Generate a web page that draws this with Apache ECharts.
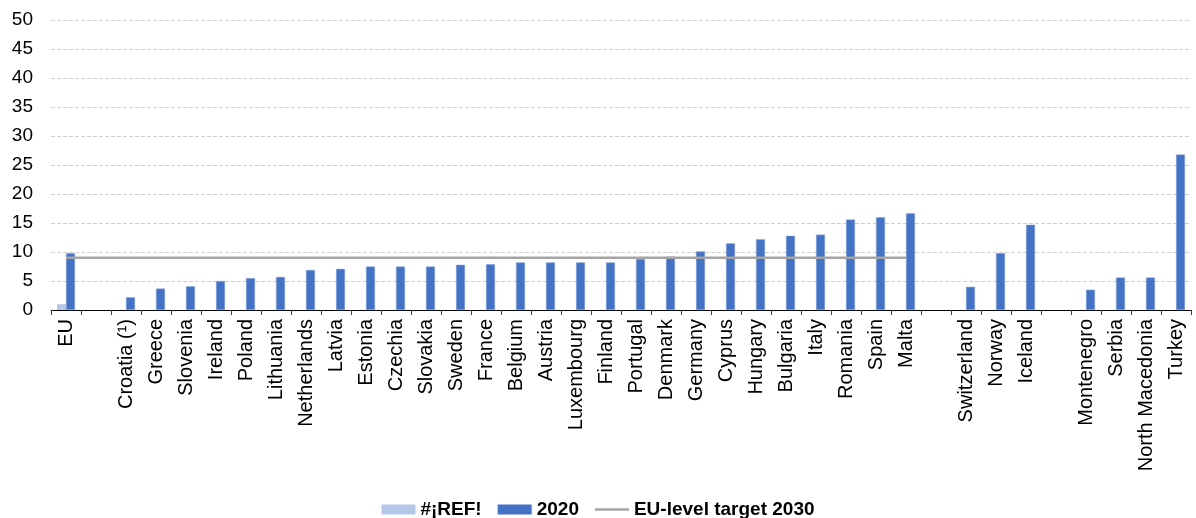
<!DOCTYPE html>
<html lang="en">
<head>
    <meta charset="UTF-8">
    <script src="https://cdn.jsdelivr.net/npm/echarts@6/dist/echarts.min.js"></script>
    <title>Share by country</title>
    <style>
      html, body { margin: 0; padding: 0; background: #fff; }
      #main { width: 1196px; height: 518px; }
    </style>
</head>
<body>
  <div id="main"></div>
  <script>
    // categories (empty strings are the spacer slots between groups)
    var countries = ['EU', '', 'Croatia (\u00b9)', 'Greece', 'Slovenia', 'Ireland', 'Poland', 'Lithuania',
      'Netherlands', 'Latvia', 'Estonia', 'Czechia', 'Slovakia', 'Sweden', 'France', 'Belgium', 'Austria',
      'Luxembourg', 'Finland', 'Portugal', 'Denmark', 'Germany', 'Cyprus', 'Hungary', 'Bulgaria', 'Italy',
      'Romania', 'Spain', 'Malta', '', 'Switzerland', 'Norway', 'Iceland', '', 'Montenegro', 'Serbia',
      'North Macedonia', 'Turkey'];

    var refValues = [1.0, null, null, null, null, null, null, null, null, null, null, null, null, null,
      null, null, null, null, null, null, null, null, null, null, null, null, null, null, null, null,
      null, null, null, null, null, null, null, null];

    var values2020 = [9.8, null, 2.2, 3.7, 4.1, 5.0, 5.5, 5.7, 6.9, 7.1, 7.5, 7.5, 7.5, 7.8, 7.9, 8.2, 8.2,
      8.2, 8.2, 8.8, 9.2, 10.1, 11.5, 12.2, 12.8, 13.0, 15.6, 16.0, 16.7, null, 4.0, 9.8, 14.7, null,
      3.5, 5.6, 5.6, 26.8];

    // EU-level target drawn across EU members only
    var target2030 = [9, 9, 9, 9, 9, 9, 9, 9, 9, 9, 9, 9, 9, 9, 9, 9, 9, 9, 9, 9, 9, 9, 9, 9, 9, 9, 9, 9, 9,
      null, null, null, null, null, null, null, null, null];

    var yTicks = [0, 5, 10, 15, 20, 25, 30, 35, 40, 45, 50];

    var myChart = echarts.init(document.getElementById('main'));
    var font = 'Liberation Sans, Arial, sans-serif';

    myChart.setOption({
      animation: false,
      textStyle: { fontFamily: font },
      grid: { left: 51, right: 5, top: 20, bottom: 208, containLabel: false },
      legend: {
        bottom: -6,
        left: 'center',
        itemWidth: 34,
        itemHeight: 10,
        itemGap: 16,
        textStyle: { fontFamily: font, fontSize: 19, fontWeight: 'bold', color: '#000' },
        data: [
          { name: '#\u00a1REF!', icon: 'rect', itemStyle: { borderWidth: 0 } },
          { name: '2020', icon: 'rect', itemStyle: { borderWidth: 0 } },
          // thin grey stroke in the middle of the 34x10 legend box
          { name: 'EU-level target 2030', icon: 'path://M0,3.8H34V6.2H0Z M0,0H0.01V10H0Z' }
        ]
      },
      xAxis: {
        type: 'category',
        data: countries,
        axisLine: { lineStyle: { color: '#000', width: 1 } },
        axisTick: { show: true, length: 5, interval: 0, lineStyle: { color: '#404040' } },
        axisLabel: { interval: 0, rotate: 90, fontSize: 20, color: '#000', margin: 9, fontFamily: font }
      },
      yAxis: {
        type: 'value',
        min: yTicks[0],
        max: yTicks[yTicks.length - 1],
        interval: 5,
        axisLine: { show: false },
        axisTick: { show: false },
        axisLabel: { fontSize: 19, color: '#000', margin: 18, fontFamily: font },
        splitLine: { lineStyle: { color: '#CFCFCF', type: [4, 2], width: 1 } }
      },
      series: [
        {
          name: '#\u00a1REF!',
          type: 'bar',
          data: refValues,
          barWidth: 9,
          barGap: 0,
          itemStyle: { color: '#B4C7E7' }
        },
        {
          name: '2020',
          type: 'bar',
          data: values2020,
          barWidth: 9,
          barGap: 0,
          itemStyle: { color: '#4472C4', borderColor: '#8FAADC', borderWidth: 0.5 }
        },
        {
          name: 'EU-level target 2030',
          type: 'line',
          data: target2030,
          symbol: 'none',
          lineStyle: { color: '#A5A5A5', width: 2.5 },
          itemStyle: { color: '#A5A5A5' },
          z: 3
        }
      ]
    });
  </script>
</body>
</html>
